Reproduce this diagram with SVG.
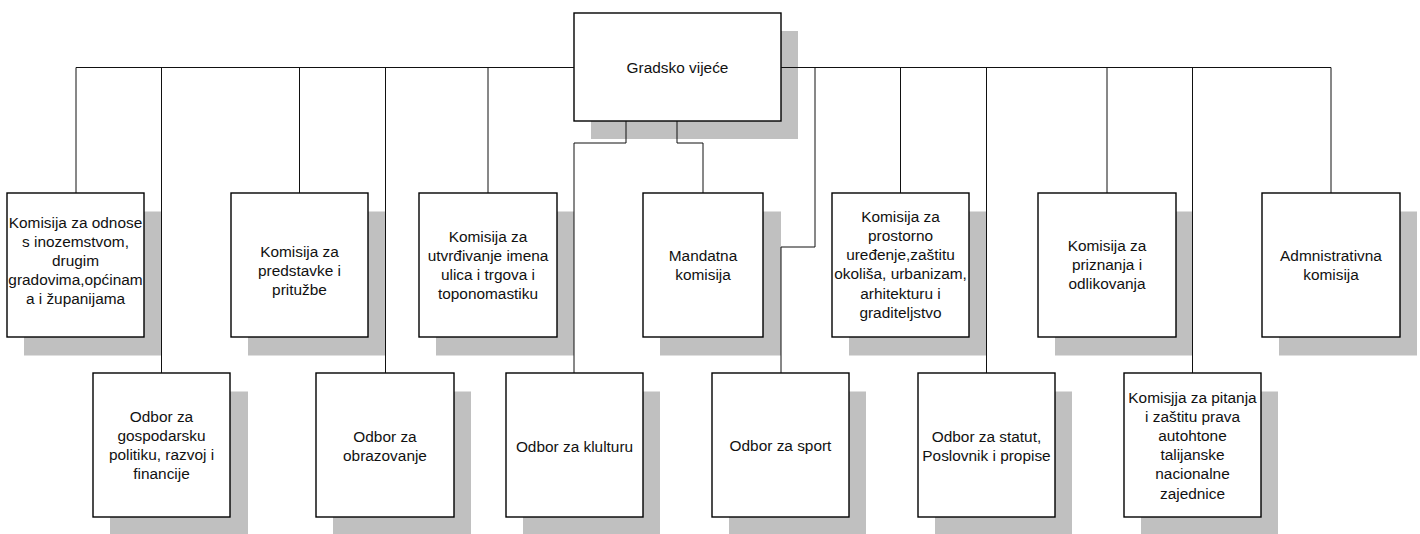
<svg xmlns="http://www.w3.org/2000/svg" width="1420" height="534" viewBox="0 0 1420 534">
<style>
.sh{fill:#c0c0c0;stroke:none}
.bx{fill:#fff;stroke:#000;stroke-width:1.4}
.t{font-family:"Liberation Sans",Arial,Helvetica,sans-serif;font-size:15.4px;fill:#111;text-anchor:middle}
.c{fill:none;stroke:#111;stroke-width:1}
</style>
<rect width="1420" height="534" fill="#fff"/>
<g id="nodes">
<g id="gradsko-vijece">
<rect class="sh" x="591" y="31" width="207" height="108"/>
<rect class="bx" x="574" y="13" width="207" height="108"/>
<text class="t" x="677.5" y="73">Gradsko vijeće</text>
</g>
<g id="komisija-odnose">
<rect class="sh" x="24" y="211.5" width="137.5" height="144"/>
<rect class="bx" x="7" y="193" width="137" height="144"/>
<text class="t"><tspan x="75.5" y="227.5">Komisija za odnose</tspan><tspan x="75.5" y="246.5">s inozemstvom,</tspan><tspan x="75.5" y="265.5">drugim</tspan><tspan x="75.5" y="284.5">gradovima,općinam</tspan><tspan x="75.5" y="303.5">a i županijama</tspan></text>
</g>
<g id="komisija-predstavke">
<rect class="sh" x="248" y="211.5" width="137.5" height="144"/>
<rect class="bx" x="231" y="193" width="137" height="144"/>
<text class="t"><tspan x="299.5" y="257">Komisija za</tspan><tspan x="299.5" y="276">predstavke i</tspan><tspan x="299.5" y="295">pritužbe</tspan></text>
</g>
<g id="komisija-utvrdivanje">
<rect class="sh" x="436" y="211.5" width="138" height="144"/>
<rect class="bx" x="419" y="193" width="138" height="144"/>
<text class="t"><tspan x="488" y="241.5">Komisija za</tspan><tspan x="488" y="260.5">utvrđivanje imena</tspan><tspan x="488" y="279.5">ulica i trgova i</tspan><tspan x="488" y="298.5">toponomastiku</tspan></text>
</g>
<g id="mandatna-komisija">
<rect class="sh" x="660" y="211.5" width="121" height="144"/>
<rect class="bx" x="643" y="193" width="120" height="144"/>
<text class="t"><tspan x="703" y="260.5">Mandatna</tspan><tspan x="703" y="279.5">komisija</tspan></text>
</g>
<g id="komisija-prostorno">
<rect class="sh" x="849" y="211.5" width="137.5" height="144"/>
<rect class="bx" x="832" y="193" width="137" height="144"/>
<text class="t"><tspan x="900.5" y="221.8">Komisija za</tspan><tspan x="900.5" y="241">prostorno</tspan><tspan x="900.5" y="260.2">uređenje,zaštitu</tspan><tspan x="900.5" y="279.4">okoliša, urbanizam,</tspan><tspan x="900.5" y="298.6">arhitekturu i</tspan><tspan x="900.5" y="317.8">graditeljstvo</tspan></text>
</g>
<g id="komisija-priznanja">
<rect class="sh" x="1055" y="211.5" width="138" height="144"/>
<rect class="bx" x="1038" y="193" width="138" height="144"/>
<text class="t"><tspan x="1107" y="250.8">Komisija za</tspan><tspan x="1107" y="270">priznanja i</tspan><tspan x="1107" y="289.2">odlikovanja</tspan></text>
</g>
<g id="admnistrativna-komisija">
<rect class="sh" x="1279" y="211.5" width="138" height="144"/>
<rect class="bx" x="1262" y="193" width="138" height="144"/>
<text class="t"><tspan x="1331" y="260.5">Admnistrativna</tspan><tspan x="1331" y="279.7">komisija</tspan></text>
</g>
<g id="odbor-gospodarsku">
<rect class="sh" x="110" y="391.5" width="138" height="144"/>
<rect class="bx" x="93" y="373" width="137" height="144"/>
<text class="t"><tspan x="161.5" y="421.7">Odbor za</tspan><tspan x="161.5" y="440.9">gospodarsku</tspan><tspan x="161.5" y="460.1">politiku, razvoj i</tspan><tspan x="161.5" y="479.3">financije</tspan></text>
</g>
<g id="odbor-obrazovanje">
<rect class="sh" x="333" y="391.5" width="138" height="144"/>
<rect class="bx" x="316" y="373" width="138" height="144"/>
<text class="t"><tspan x="385" y="441.6">Odbor za</tspan><tspan x="385" y="460.8">obrazovanje</tspan></text>
</g>
<g id="odbor-klulturu">
<rect class="sh" x="523" y="391.5" width="137" height="144"/>
<rect class="bx" x="506" y="373" width="137" height="144"/>
<text class="t" x="574.5" y="451.5">Odbor za klulturu</text>
</g>
<g id="odbor-sport">
<rect class="sh" x="729" y="391.5" width="137" height="144"/>
<rect class="bx" x="712" y="373" width="137" height="144"/>
<text class="t" x="780.5" y="451">Odbor za sport</text>
</g>
<g id="odbor-statut">
<rect class="sh" x="935" y="391.5" width="137" height="144"/>
<rect class="bx" x="918" y="373" width="137" height="144"/>
<text class="t"><tspan x="986.5" y="442">Odbor za statut,</tspan><tspan x="986.5" y="461">Poslovnik i propise</tspan></text>
</g>
<g id="komisija-pitanja">
<rect class="sh" x="1141" y="391.5" width="137" height="144"/>
<rect class="bx" x="1124" y="373" width="137" height="144"/>
<text class="t"><tspan x="1192.5" y="402.5">Komisjja za pitanja</tspan><tspan x="1192.5" y="421.7">i zaštitu prava</tspan><tspan x="1192.5" y="440.9">autohtone</tspan><tspan x="1192.5" y="460.1">talijanske</tspan><tspan x="1192.5" y="479.3">nacionalne</tspan><tspan x="1192.5" y="498.5">zajednice</tspan></text>
</g>
</g>
<g id="connectors" class="c">
<path d="M76,67.5 H574"/>
<path d="M781,67.5 H1331"/>
<path d="M76,67.5 V193"/>
<path d="M299.5,67.5 V193"/>
<path d="M488,67.5 V193"/>
<path d="M900.5,67.5 V193"/>
<path d="M1107,67.5 V193"/>
<path d="M1331,67.5 V193"/>
<path d="M161.5,67.5 V373"/>
<path d="M385.5,67.5 V373"/>
<path d="M986.5,67.5 V373"/>
<path d="M1192.5,67.5 V373"/>
<path d="M626,121 V143 H574 V373"/>
<path d="M677,121 V143 H703 V193"/>
<path d="M815,67.5 V247 H781 V373"/>
</g>
</svg>
